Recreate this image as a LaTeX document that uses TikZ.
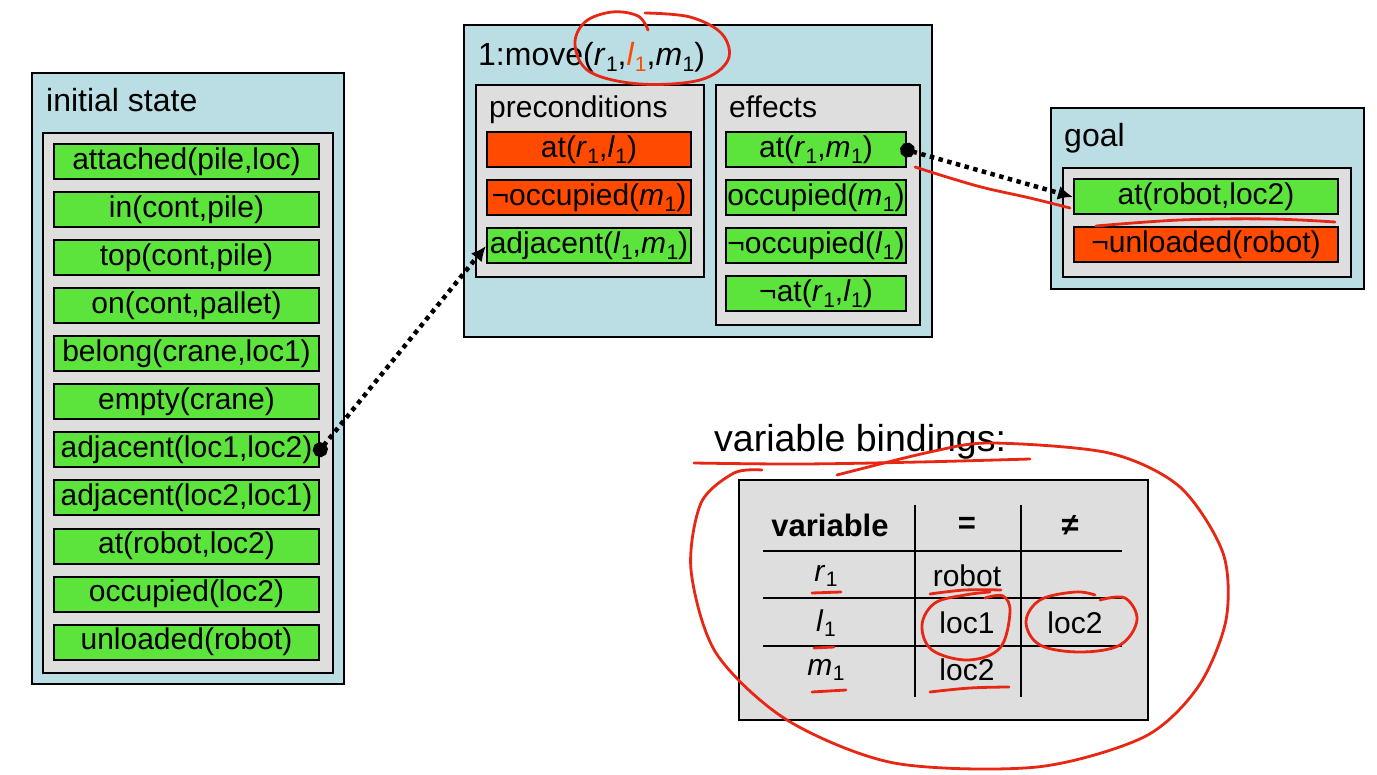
\documentclass[tikz,border=0pt]{standalone}
\usepackage{fontspec}
\setmainfont{Liberation Sans}
\usetikzlibrary{arrows.meta}
\definecolor{sky}{RGB}{186,222,228}
\definecolor{panel}{RGB}{222,222,222}
\definecolor{lit}{RGB}{92,228,60}
\definecolor{hot}{RGB}{255,74,0}
\definecolor{ink}{RGB}{232,38,20}
\newcommand\myfs{\fontsize{30}{35}\selectfont}
\newcommand\bigfs{\fontsize{32}{37}\selectfont}
\newcommand\vsub[1]{\textit{#1}\kern0.5pt\raisebox{-0.35ex}{\fontsize{21}{21}\selectfont 1}}
\begin{document}
\begin{tikzpicture}[x=1pt,y=-1pt,
  outerbox/.style={draw=black,line width=2pt,fill=sky,anchor=north west,inner sep=0pt},
  innerbox/.style={draw=black,line width=2pt,fill=panel,anchor=north west,inner sep=0pt},
  fact/.style={draw=black,line width=2pt,fill=lit,minimum height=35pt,inner sep=0pt,font=\myfs},
  negfact/.style={fact,fill=hot},
  title/.style={anchor=base west,inner sep=0pt,font=\myfs},
  bigtitle/.style={anchor=base west,inner sep=0pt,font=\bigfs},
  cell/.style={inner sep=0pt,font=\myfs},
  rule/.style={line width=1.5pt},
  conn/.style={line width=4.5pt,dash pattern=on 4.5pt off 4.5pt,
    {Circle[length=15pt,width=15pt]}-{Latex[length=15pt,width=14pt]},shorten <=-7pt},
  redmark/.style={draw=ink,line width=2.8pt,line cap=round,line join=round}]
\useasboundingbox (0,0) rectangle (1377,775);
\fill[white] (0,0) rectangle (1377,775);

% ---------- initial state ----------
\node[outerbox,minimum width=312pt,minimum height=611pt] (init) at (31,72) {};
\node[bigtitle] (initT) at (46,112) {initial state};
\node[innerbox,minimum width=290pt,minimum height=540pt] (initP) at (42,132) {};
\begin{scope}[every node/.style={fact,minimum width=265pt}]
\node (i1) at (186.5,162) {attached(pile,loc)};
\node (i2) at (186.5,210) {in(cont,pile)};
\node (i3) at (186.5,258) {top(cont,pile)};
\node (i4) at (186.5,306) {on(cont,pallet)};
\node (i5) at (186.5,354) {belong(crane,loc1)};
\node (i6) at (186.5,402) {empty(crane)};
\node (i7) at (186.5,450) {adjacent(loc1,loc2)};
\node (i8) at (186.5,498) {adjacent(loc2,loc1)};
\node (i9) at (186.5,546) {at(robot,loc2)};
\node (i10) at (186.5,594) {occupied(loc2)};
\node (i11) at (186.5,642) {unloaded(robot)};
\end{scope}

% ---------- action ----------
\node[outerbox,minimum width=468pt,minimum height=312pt] (act) at (463,24) {};
\node[bigtitle] (actT) at (478,66) {1:move(\vsub{r},\textcolor{hot}{\vsub{l}},\vsub{m})};
\node[innerbox,minimum width=228pt,minimum height=192pt] (pre) at (475,84) {};
\node[title] (preT) at (489,118) {preconditions};
\node[negfact,minimum width=204pt] (p1) at (589,150) {at(\vsub{r},\vsub{l})};
\node[negfact,minimum width=204pt] (p2) at (589,198) {¬occupied(\vsub{m})};
\node[fact,minimum width=204pt] (p3) at (589,246) {adjacent(\vsub{l},\vsub{m})};
\node[innerbox,minimum width=204pt,minimum height=240pt] (eff) at (715,84) {};
\node[title] (effT) at (729,118) {effects};
\begin{scope}[every node/.style={fact,minimum width=180pt}]
\node (e1) at (816,150) {at(\vsub{r},\vsub{m})};
\node (e2) at (816,198) {occupied(\vsub{m})};
\node (e3) at (816,246) {¬occupied(\vsub{l})};
\node (e4) at (816,294) {¬at(\vsub{r},\vsub{l})};
\end{scope}

% ---------- goal ----------
\node[outerbox,minimum width=313pt,minimum height=181pt] (goal) at (1050,107) {};
\node[bigtitle] (goalT) at (1064,147) {goal};
\node[innerbox,minimum width=288pt,minimum height=109pt] (goalP) at (1062,167) {};
\node[fact,minimum width=264pt] (g1) at (1206,197) {at(robot,loc2)};
\node[negfact,minimum width=264pt] (g2) at (1206,245) {¬unloaded(robot)};

% ---------- connectors ----------
\draw[conn] (i7.east) -- (p3.west);
\draw[conn] (e1.east) -- (g1.west);

% ---------- variable bindings ----------
\node[anchor=base west,inner sep=0pt,font=\fontsize{37.5}{42}\selectfont] (vbT) at (714,452) {variable bindings:};
\node[innerbox,minimum width=409pt,minimum height=240pt] (tbl) at (738,479) {};
\draw[rule] (915,505) -- (915,697);
\draw[rule] (1021,505) -- (1021,697);
\draw[rule] (763,551) -- (1122,551);
\draw[rule] (763,598) -- (1122,598);
\draw[rule] (763,646) -- (1122,646);
\node[cell,font=\fontsize{31}{36}\selectfont\bfseries] (hv) at (830,525) {variable};
\node[cell,font=\fontsize{31}{36}\selectfont\bfseries] (he) at (967,525) {=};
\node[cell,font=\fontsize{31}{36}\selectfont\bfseries] (hn) at (1070,525) {≠};
\node[cell] (r1) at (826,576) {\vsub{r}};
\node[cell] (r1e) at (967,576) {robot};
\node[cell] (l1) at (826,623) {\vsub{l}};
\node[cell] (l1e) at (967,623) {loc1};
\node[cell] (l1n) at (1075,623) {loc2};
\node[cell] (m1) at (826,670) {\vsub{m}};
\node[cell] (m1e) at (967,670) {loc2};

% ---------- red hand annotations ----------
\draw[redmark] plot[smooth,tension=0.6] coordinates {(648,30) (638,16) (612,12) (585,22) (575,45) (590,72) (640,84) (700,80) (728,60) (722,34) (690,17) (645,13)};
\draw[redmark] plot[smooth,tension=0.6] coordinates {(915,167) (950,178) (985,188) (1030,198) (1070,208)};
\draw[redmark] plot[smooth,tension=0.6] coordinates {(1096,226) (1180,220) (1270,219) (1335,222)};
\draw[redmark] plot[smooth,tension=0.6] coordinates {(694,463) (800,464) (920,462) (1030,459)};
\draw[redmark] plot[smooth,tension=0.5] coordinates {(837,475) (930,452) (991,443) (1109,453) (1180,487) (1223,553) (1226,620) (1198,687) (1144,737) (1037,767) (894,763) (787,720) (716,653) (691,570) (701,503) (734,473) (762,470)};
\draw[redmark] (812,593) -- (841,592);
\draw[redmark] (814,648) -- (834,647);
\draw[redmark] (812,692) -- (846,690);
\draw[redmark] plot[smooth,tension=0.6] coordinates {(930,594) (965,590) (1001,590)};
\draw[redmark] plot[smooth,tension=0.6] coordinates {(985,598) (1003,596) (1010,612) (1000,648) (968,660) (932,650) (922,625) (935,603) (965,595) (990,592)};
\draw[redmark] plot[smooth,tension=0.6] coordinates {(1100,600) (1125,598) (1137,620) (1120,645) (1080,652) (1040,645) (1026,622) (1040,600) (1075,592) (1095,595)};
\draw[redmark] plot[smooth,tension=0.6] coordinates {(930,692) (970,688) (1009,687)};
\end{tikzpicture}
\end{document}
